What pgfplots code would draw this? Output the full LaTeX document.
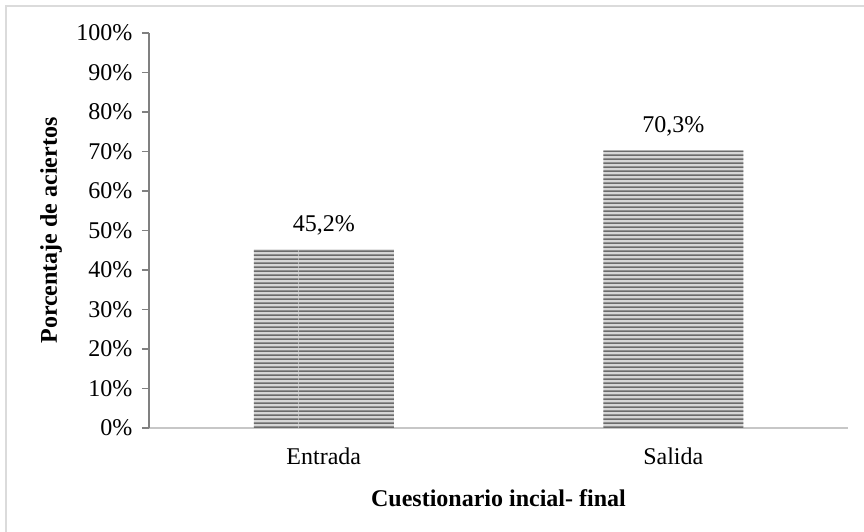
\documentclass[border=0pt]{standalone}
\usepackage{pgfplots}
\pgfplotsset{compat=1.18}
\usepackage{fontspec}
\setmainfont{Liberation Serif}
\usetikzlibrary{patterns}

\newcommand{\chartfont}{\fontsize{24}{28}\selectfont}

% wide tiles, so that no seams show inside a bar
\pgfdeclarepatternformonly{hstripes}{\pgfpointorigin}{\pgfpoint{300pt}{4pt}}{\pgfpoint{300pt}{4pt}}{%
  \pgfpathrectangle{\pgfpointorigin}{\pgfpoint{300pt}{2pt}}%
  \pgfusepath{fill}%
}

\begin{document}
\begin{tikzpicture}[x=1pt,y=1pt]
  % picture area = 864 x 532 (reference pixels)
  \useasboundingbox (0,0) rectangle (864,532);
  % outer chart frame (right and bottom edges fall outside the image)
  \draw[draw=black!14, line width=2pt] (6,-10) -- (6,526) -- (880,526);

  \begin{axis}[
      at={(149pt,104pt)}, anchor=south west,
      scale only axis,
      width=699pt, height=395pt,
      ybar, bar width=140pt,
      xmin=-0.5, xmax=1.5,
      ymin=0, ymax=100,
      axis x line*=bottom, axis y line*=left,
      x axis line style={draw=black!22, line width=2.5pt},
      y axis line style={draw=black!50, line width=1.5pt},
      xtick={0,1}, xticklabels={Entrada,Salida},
      xtick style={draw=none},
      ytick={0,10,...,100},
      ytick style={draw=black!50, line width=1.5pt},
      tick align=outside, major tick length=7pt,
      /pgf/number format/assume math mode=true,
      yticklabel={\pgfmathprintnumber{\tick}\%},
      ticklabel style={font=\chartfont},
      xticklabel style={anchor=center, yshift=-21pt},
      yticklabel style={anchor=east, xshift=-6pt},
      xlabel={\textbf{Cuestionario incial- final}},
      ylabel={\textbf{Porcentaje de aciertos}},
      label style={font=\chartfont},
      xlabel style={at={(axis description cs:0.5,-0.177)}, anchor=center},
      ylabel style={at={(axis description cs:-0.140,0.5)}, anchor=center},
      nodes near coords={\pgfmathprintnumber[fixed,fixed zerofill,precision=1,use comma]{\pgfplotspointmeta}\%},
      nodes near coords style={font=\chartfont, anchor=center, yshift=24pt},
      clip=false,
    ]
    \addplot[draw=none, fill=black!16,
      postaction={pattern=hstripes, pattern color=black!58}]
      coordinates {(0,45.2) (1,70.3)};
  \end{axis}
\end{tikzpicture}
\end{document}
